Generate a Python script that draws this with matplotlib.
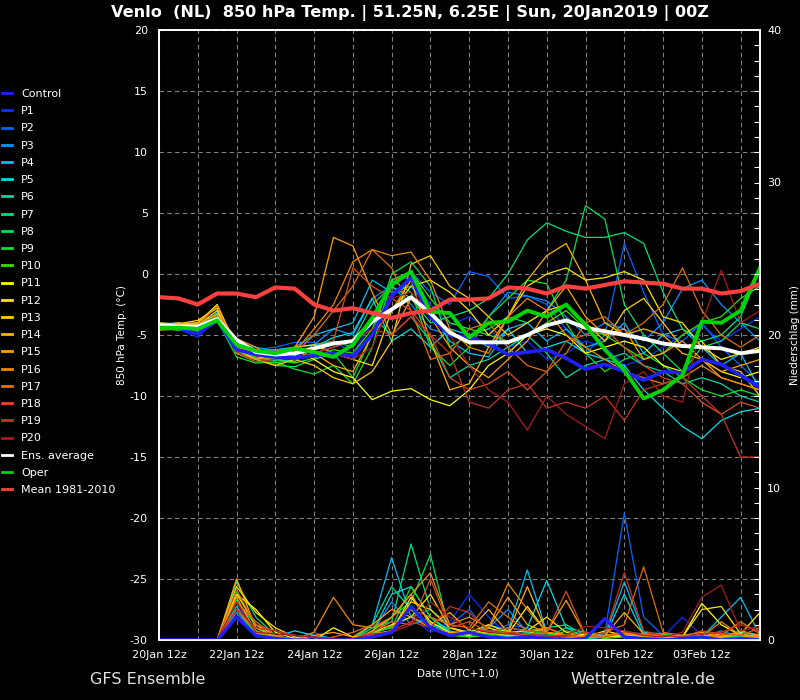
import numpy as np
import matplotlib
matplotlib.use("Agg")
import matplotlib.pyplot as plt
from matplotlib.lines import Line2D
from matplotlib.ticker import MultipleLocator

# time axis: days after 20Jan 12z (UTC+1), 12-hourly steps
days = np.arange(32) * 0.5
tick_days = [0, 2, 4, 6, 8, 10, 12, 14]
tick_labels = ["20Jan 12z", "22Jan 12z", "24Jan 12z", "26Jan 12z",
               "28Jan 12z", "30Jan 12z", "01Feb 12z", "03Feb 12z"]

# 850 hPa temperature (degC)
t_mean = [-1.9, -2.0, -2.5, -1.6, -1.6, -1.9, -1.1, -1.2, -2.5, -3.0, -2.8, -3.2, -3.6, -3.2, -3.0, -2.1,
          -2.1, -2.0, -1.1, -1.2, -1.6, -1.0, -1.2, -0.9, -0.6, -0.7, -0.8, -1.2, -1.2, -1.6, -1.4, -0.8]
t_avg = [-4.2, -4.3, -4.3, -3.7, -5.4, -6.4, -6.6, -6.5, -6.1, -5.7, -5.5, -3.9, -2.9, -1.9, -3.2, -4.8,
         -5.6, -5.6, -5.6, -5.0, -4.2, -3.8, -4.4, -4.7, -5.0, -5.3, -5.7, -5.9, -6.0, -6.1, -6.5, -6.3]
t_oper = [-4.4, -4.4, -4.5, -3.8, -5.8, -6.3, -6.5, -6.1, -6.4, -6.8, -5.8, -3.6, -0.9, 0.2, -3.1, -3.2,
          -5.2, -4.0, -3.9, -3.0, -3.5, -2.5, -4.2, -6.2, -7.9, -10.2, -9.5, -8.3, -3.9, -4.0, -3.0, 0.5]
t_control = [-4.3, -4.4, -4.9, -3.8, -6.2, -6.6, -6.8, -6.9, -6.7, -6.5, -6.7, -5.0, -1.8, -0.3, -3.5, -5.0,
             -5.2, -5.7, -6.6, -6.4, -6.2, -6.9, -7.8, -7.4, -8.0, -8.7, -8.0, -8.1, -7.0, -7.4, -8.3, -9.3]
t_p1 = [-4.2, -4.5, -5.2, -3.6, -6.2, -7.0, -7.3, -6.8, -6.0, -5.5, -6.5, -4.0, -0.5, -0.3, -2.5, -4.2,
        -3.5, -4.5, -6.0, -5.5, -7.0, -6.5, -5.5, -6.0, -7.5, -7.0, -6.0, -5.0, -4.2, -5.5, -4.5, -3.5]
t_p2 = [-4.0, -4.2, -4.8, -3.4, -6.0, -6.2, -6.0, -5.6, -5.6, -6.5, -7.0, -5.0, -1.0, 0.2, -1.5, -2.5,
        0.2, -0.2, -2.0, -1.8, -2.5, -4.5, -6.5, -5.0, 2.5, -1.5, -5.0, -5.5, -4.0, -6.0, -7.5, -9.0]
t_p3 = [-4.1, -4.0, -4.3, -3.0, -5.8, -6.0, -6.3, -6.0, -5.8, -4.5, -5.0, -2.0, -1.0, -2.5, -4.5, -5.0,
        -5.5, -3.5, -1.5, -1.8, -2.2, -3.5, -5.0, -4.0, -4.5, -5.5, -4.0, -1.2, -0.5, -2.5, -4.0, -5.5]
t_p4 = [-4.3, -4.6, -4.4, -3.2, -5.5, -6.3, -6.2, -6.0, -5.0, -4.5, -4.0, -0.5, -1.5, -1.0, -3.0, -5.5,
        -6.5, -6.8, -4.5, -4.0, -5.5, -4.5, -6.0, -5.5, -4.0, -6.5, -5.0, -4.5, -6.0, -7.5, -6.5, -9.5]
t_p5 = [-4.4, -4.3, -4.4, -3.2, -6.0, -6.5, -7.0, -7.2, -6.0, -5.2, -4.8, -2.0, -5.5, -4.5, -6.0, -4.5,
        -5.0, -6.0, -4.5, -6.5, -6.0, -5.5, -6.5, -7.0, -7.5, -9.5, -11.0, -12.5, -13.5, -12.0, -11.3, -11.0]
t_p6 = [-4.2, -4.4, -4.6, -3.8, -6.2, -6.9, -7.1, -6.7, -5.8, -5.5, -6.0, -3.5, -5.0, -3.5, -5.5, -8.5,
        -7.5, -7.0, -6.0, -5.0, -6.5, -8.5, -7.5, -7.0, -6.5, -7.5, -8.0, -9.0, -8.5, -9.0, -10.0, -10.5]
t_p7 = [-4.5, -4.4, -4.7, -3.3, -6.5, -7.2, -7.3, -7.0, -6.5, -6.0, -5.5, -2.5, -1.0, -2.0, -4.0, -3.5,
        -3.0, -2.0, 0.0, 2.8, 4.2, 3.5, 3.0, 3.0, 3.4, 2.5, -1.5, -4.5, -5.5, -5.0, -3.5, 0.3]
t_p8 = [-4.4, -4.5, -4.4, -3.5, -6.3, -7.0, -7.5, -7.6, -7.0, -6.5, -8.5, -5.0, 0.0, 1.0, -1.0, -6.0,
        -5.0, -4.5, -3.5, -4.0, -3.0, -0.5, 5.6, 4.5, -2.5, -5.0, -6.5, -8.0, -6.0, -5.5, -4.0, -4.5]
t_p9 = [-4.6, -4.5, -4.3, -3.8, -6.8, -7.3, -7.2, -7.8, -8.2, -7.5, -9.0, -6.0, -0.5, -1.5, -6.0, -7.5,
        -6.0, -3.5, -2.0, -0.5, -0.8, -4.0, -6.5, -8.0, -7.0, -6.5, -7.5, -8.5, -9.5, -10.0, -9.5, -10.0]
t_p10 = [-4.5, -4.6, -4.5, -3.5, -6.3, -6.8, -7.0, -7.3, -6.9, -6.2, -6.5, -4.5, -0.5, 0.2, -2.0, -4.0,
         -4.5, -5.0, -5.5, -5.0, -4.0, -3.0, -4.5, -5.0, -6.0, -7.0, -6.5, -5.0, -4.0, -3.5, -2.0, -1.0]
t_p11 = [-4.1, -4.2, -4.0, -2.5, -6.0, -6.5, -6.8, -6.2, -7.0, -8.0, -8.5, -10.3, -9.6, -9.4, -10.3, -10.8,
         -9.5, -7.5, -6.5, -5.0, -4.5, -5.0, -6.5, -6.0, -5.5, -6.0, -7.5, -8.0, -7.0, -8.0, -8.5, -8.0]
t_p12 = [-4.0, -4.1, -3.8, -2.8, -6.5, -7.0, -6.5, -6.0, -5.8, -6.5, -7.0, -7.5, -3.0, -1.0, -0.5, -1.5,
         -3.0, -5.0, -3.5, -1.0, 0.0, 0.5, -0.5, -0.3, 0.2, -0.5, -3.5, -4.0, -6.0, -7.0, -6.5, -6.0]
t_p13 = [-4.2, -4.0, -4.2, -3.0, -6.2, -7.0, -7.5, -7.0, -7.5, -8.5, -9.0, -8.0, -5.5, 0.8, 1.5, -1.0,
         -2.0, -3.5, -5.0, -4.0, -3.0, -2.5, -4.0, -5.5, -3.0, -2.0, -4.0, -6.0, -5.5, -7.5, -8.0, -10.0]
t_p14 = [-4.3, -4.1, -4.0, -2.6, -5.9, -6.4, -6.6, -6.9, -6.5, -7.5, -8.0, -5.0, -3.0, -0.5, -5.5, -9.5,
         -9.0, -6.0, -3.5, -0.5, 1.5, 2.5, -0.5, -4.0, -5.0, -4.5, -5.0, -6.5, -7.0, -8.5, -9.0, -9.5]
t_p15 = [-4.2, -4.3, -4.1, -3.3, -5.3, -6.0, -7.0, -6.0, -3.5, 3.0, 2.3, -1.5, -5.0, -2.0, -3.5, -6.0,
         -7.5, -8.5, -7.0, -5.5, -3.0, -1.0, -3.5, -5.0, -4.5, -7.0, -6.5, -5.5, -7.0, -8.0, -7.5, -7.0]
t_p16 = [-4.4, -4.3, -4.2, -2.6, -6.5, -7.0, -6.8, -6.4, -4.5, -2.5, 1.0, 2.0, 1.5, 1.8, -0.5, -4.5,
         -6.0, -6.5, -3.5, -2.0, -3.0, -5.0, -6.0, -7.0, -8.0, -8.5, -9.0, -8.5, -7.5, -8.5, -9.0, -9.5]
t_p17 = [-4.6, -4.5, -4.3, -3.5, -6.0, -6.3, -6.2, -6.5, -5.0, -3.0, -1.0, 2.0, 0.5, -3.0, -7.0, -6.5,
         -4.5, -4.0, -6.0, -7.5, -8.0, -6.5, -4.0, -3.5, -5.0, -4.0, -2.5, 0.5, -3.0, -5.0, -6.0, -5.0]
t_p18 = [-4.3, -4.2, -4.5, -3.8, -6.2, -6.7, -6.9, -6.4, -6.0, -5.5, 0.5, -1.0, -2.0, -3.0, -5.0, -8.5,
         -9.5, -9.0, -8.0, -9.5, -8.0, -5.5, -5.0, -4.5, -6.0, -7.5, -8.5, -9.0, -10.5, -11.5, -10.5, -11.0]
t_p19 = [-4.5, -4.4, -4.6, -3.7, -6.4, -7.2, -7.0, -6.8, -6.5, -6.0, -5.5, -4.5, -5.0, -3.5, -5.0, -6.5,
         -10.5, -11.0, -9.5, -9.0, -11.0, -10.5, -11.0, -10.0, -12.0, -9.5, -9.0, -8.5, -10.0, -11.5, -15.0, -15.0]
t_p20 = [-4.3, -4.4, -4.5, -3.6, -6.1, -6.5, -6.6, -6.2, -6.0, -6.5, -7.0, -6.0, -2.0, -1.5, -3.0, -5.0,
         -7.5, -9.5, -10.5, -12.8, -10.0, -11.5, -12.5, -13.5, -9.0, -8.0, -10.0, -10.5, -4.0, 0.3, -4.0, -3.0]

# precipitation (mm per step)
r_control = [0, 0, 0, 0, 1.5, 0.3, 0.1, 0, 0, 0, 0, 0.2, 0.5, 2.2, 0.8, 0.3,
             0.5, 0.2, 0.1, 0.2, 0.1, 0, 0.1, 1.4, 0.2, 0.1, 0, 0.1, 0.2, 0, 0.1, 0]
r_p1 = [0, 0, 0, 0, 2.0, 0.2, 0.1, 0, 0.2, 0, 0, 0.5, 0.8, 1.5, 0.5, 1.2,
        3.0, 1.5, 0.3, 0.5, 0.2, 0.1, 0, 0.2, 0.3, 0.1, 0.2, 1.5, 0.3, 0.2, 0.1, 0.2]
r_p2 = [0, 0, 0, 0, 2.5, 0.5, 0, 0.1, 0.5, 0, 0, 0.3, 1.0, 1.5, 2.0, 1.0,
        2.0, 0.5, 1.0, 0.8, 0.5, 0.1, 0, 0.5, 8.3, 1.5, 0.3, 0.2, 0.1, 0.2, 0.3, 0.2]
r_p3 = [0, 0, 0, 0, 1.8, 0.3, 0.2, 0, 0, 0.1, 0, 0.5, 2.5, 1.0, 1.5, 0.5,
        0.6, 0.8, 2.0, 0.5, 0.3, 0, 0.1, 0.2, 0.5, 0.4, 0.3, 0.1, 0.2, 0.6, 0.2, 0.4]
r_p4 = [0, 0, 0, 0, 2.2, 0.5, 0.1, 0, 0, 0, 0.1, 1.0, 5.4, 1.5, 1.0, 0.8,
        0.5, 1.0, 0.6, 4.6, 0.5, 0.2, 0.1, 0.3, 3.8, 0.5, 0.4, 0.3, 0.2, 1.5, 2.8, 0.3]
r_p5 = [0, 0, 0, 0, 1.5, 0.4, 0.2, 0.6, 0.3, 0.1, 0, 0.5, 3.0, 3.5, 1.5, 0.6,
        0.3, 0.5, 0.2, 0.8, 3.9, 0.8, 0.2, 0.2, 3.0, 0.3, 0.4, 0.2, 0.3, 0.2, 0.5, 0.3]
r_p6 = [0, 0, 0, 0, 2.6, 0.6, 0.2, 0.1, 0, 0, 0, 1.0, 3.5, 2.0, 1.0, 0.5,
        0.4, 0.3, 0.2, 0.4, 0.2, 0.8, 0.5, 0.3, 0.2, 0.3, 0.2, 0.2, 0.1, 0.3, 0.2, 0.1]
r_p7 = [0, 0, 0, 0, 3.8, 1.5, 0.3, 0, 0, 0, 0, 0.8, 1.2, 6.3, 2.0, 0.8,
        0.5, 0.4, 0.3, 0.5, 0.8, 1.0, 0.3, 0.2, 0.4, 0.2, 0.1, 0.3, 0.2, 0.1, 0.2, 0.3]
r_p8 = [0, 0, 0, 0, 3.2, 0.8, 0.2, 0, 0, 0, 0, 0.3, 1.5, 2.5, 5.6, 0.5,
        0.3, 0.6, 0.4, 0.3, 0.5, 0.3, 0.2, 0.3, 0.4, 0.3, 0.2, 0.1, 0.2, 0.3, 0.1, 0.2]
r_p9 = [0, 0, 0, 0, 2.5, 1.0, 0.1, 0, 0, 0, 0, 0.5, 0.8, 3.5, 1.5, 0.4,
        0.2, 0.3, 0.8, 0.6, 0.4, 0.2, 0.1, 0.2, 0.3, 0.2, 0.4, 0.2, 0.1, 0.2, 0.3, 0.1]
r_p10 = [0, 0, 0, 0, 2.0, 0.4, 0.1, 0, 0, 0, 0, 0.4, 0.9, 2.0, 0.8, 0.3,
         0.2, 0.4, 0.3, 0.2, 0.1, 0.6, 0.3, 0.1, 0.2, 0.3, 0.2, 0.1, 0.2, 0.1, 0.1, 0.2]
r_p11 = [0, 0, 0, 0, 3.0, 2.0, 0.5, 0.1, 0, 0.8, 0.2, 0.3, 0.6, 2.8, 1.2, 0.5,
         0.3, 0.8, 0.4, 2.2, 0.5, 0.3, 0.4, 0.2, 0.3, 0.2, 0.3, 0.2, 2.4, 1.0, 0.3, 0.2]
r_p12 = [0, 0, 0, 0, 3.5, 1.8, 0.8, 0.2, 0, 0, 0, 0.5, 1.0, 1.5, 3.0, 0.8,
         0.5, 1.0, 0.5, 0.6, 1.5, 0.5, 0.2, 0.6, 0.3, 0.4, 0.3, 0.2, 2.0, 2.2, 0.4, 1.8]
r_p13 = [0, 0, 0, 0, 3.0, 1.0, 0.3, 0, 0, 0.1, 0, 0.4, 0.6, 2.5, 2.0, 0.8,
         0.4, 0.5, 0.3, 0.4, 0.8, 0.3, 0.2, 0.3, 0.5, 0.3, 0.2, 0.1, 0.3, 0.2, 0.4, 0.2]
r_p14 = [0, 0, 0, 0, 4.0, 0.8, 0.2, 0, 0, 0, 0, 0.6, 1.5, 3.0, 1.0, 1.8,
         0.6, 2.0, 0.5, 3.5, 0.5, 0.3, 0.2, 0.3, 1.8, 0.4, 0.2, 0.3, 0.2, 0.4, 0.3, 0.2]
r_p15 = [0, 0, 0, 0, 2.8, 0.5, 0.1, 0, 0.3, 0.5, 0.2, 1.0, 2.0, 1.5, 0.8, 0.5,
         0.4, 0.8, 2.8, 1.0, 0.5, 2.6, 0.3, 0.2, 0.6, 0.3, 0.2, 0.3, 0.5, 0.2, 0.6, 0.3]
r_p16 = [0, 0, 0, 0, 2.0, 0.6, 0.2, 0, 0.5, 2.8, 1.0, 0.8, 1.5, 3.0, 4.4, 1.0,
         1.5, 0.8, 3.7, 2.0, 0.5, 0.3, 0.2, 0.3, 0.4, 0.3, 0.2, 0.3, 0.2, 1.2, 0.3, 0.2]
r_p17 = [0, 0, 0, 0, 2.5, 1.2, 0.3, 0, 0, 0.2, 0.5, 1.0, 0.8, 2.0, 1.5, 1.0,
         0.8, 2.5, 1.5, 0.6, 0.8, 0.3, 0.2, 0.5, 1.0, 4.8, 0.5, 0.3, 0.2, 0.3, 1.2, 0.4]
r_p18 = [0, 0, 0, 0, 3.3, 1.0, 0.6, 0.3, 0.2, 0, 0.1, 0.5, 1.2, 1.0, 4.0, 0.8,
         1.2, 0.5, 0.8, 0.6, 0.5, 3.2, 0.3, 0.2, 0.5, 0.4, 0.3, 0.2, 0.6, 0.4, 0.3, 0.8]
r_p19 = [0, 0, 0, 0, 2.0, 0.8, 0.6, 0.3, 0.2, 0.1, 0, 0.3, 0.6, 1.2, 0.8, 2.2,
         1.8, 0.6, 0.5, 0.4, 0.3, 0.2, 0.5, 0.4, 4.4, 0.6, 0.3, 0.2, 0.4, 0.5, 1.0, 0.6]
r_p20 = [0, 0, 0, 0, 2.5, 0.5, 0.4, 0.3, 0.2, 0.1, 0.1, 0.4, 0.5, 1.0, 2.5, 1.5,
         0.8, 0.5, 0.4, 0.3, 0.2, 0.3, 0.9, 0.8, 0.6, 0.3, 0.2, 0.5, 2.8, 3.6, 0.6, 0.9]

member_names = ["P%d" % i for i in range(1, 21)]
member_temps = [t_p1, t_p2, t_p3, t_p4, t_p5, t_p6, t_p7, t_p8, t_p9, t_p10,
                t_p11, t_p12, t_p13, t_p14, t_p15, t_p16, t_p17, t_p18, t_p19, t_p20]
member_rain = [r_p1, r_p2, r_p3, r_p4, r_p5, r_p6, r_p7, r_p8, r_p9, r_p10,
               r_p11, r_p12, r_p13, r_p14, r_p15, r_p16, r_p17, r_p18, r_p19, r_p20]
member_colors = ["#0033ff", "#0066ff", "#0096ff", "#00bff0", "#00dde6", "#00d8a0", "#00e07c",
                 "#00e058", "#10e030", "#38e000", "#ffff00", "#ffe400", "#ffcc00", "#ffb400",
                 "#ff9e00", "#f08800", "#e07000", "#d85020", "#c83420", "#a81c1c"]
control_color = "#2020ff"
avg_color = "#ffffff"
oper_color = "#00d400"
mean_color = "#ff4040"

bg = "#000000"
fg = "#ffffff"
grid_col = "#808080"

plt.rcParams["font.family"] = "DejaVu Sans"
plt.rcParams["text.color"] = fg
plt.rcParams["axes.unicode_minus"] = False

fig = plt.figure(figsize=(8, 7), dpi=100, facecolor=bg)
ax = fig.add_axes([159 / 800, 60 / 700, 601 / 800, 610 / 700], facecolor=bg)
ax2 = ax.twinx()

# temperature spaghetti
for vals, col in zip(member_temps, member_colors):
    ax.plot(days, vals, color=col, lw=0.9, zorder=3)
ax.plot(days, t_control, color=control_color, lw=2.6, zorder=4)
ax.plot(days, t_avg, color=avg_color, lw=2.8, zorder=5)
ax.plot(days, t_oper, color=oper_color, lw=2.8, zorder=6)
ax.plot(days, t_mean, color=mean_color, lw=3.0, zorder=7)

# precipitation on the right axis
for vals, col in zip(member_rain, member_colors):
    ax2.plot(days, vals, color=col, lw=0.9)
ax2.plot(days, r_control, color=control_color, lw=2.4)

ax.set_xlim(0, 15.5)
ax.set_ylim(-30, 20)
ax2.set_ylim(0, 40)

ax.set_xticks(tick_days)
ax.set_xticklabels(tick_labels)
ax.xaxis.set_minor_locator(MultipleLocator(1))
ax.set_yticks(np.arange(-30, 21, 5))
ax.grid(True, which="both", axis="x", color=grid_col, ls=(0, (4, 3)), lw=0.8)
ax.grid(True, which="major", axis="y", color=grid_col, ls=(0, (4, 3)), lw=0.8)
ax.set_axisbelow(True)
ax.tick_params(axis="both", which="both", length=0, colors=fg, labelsize=8)
ax.tick_params(axis="y", pad=8)
ax.tick_params(axis="x", pad=7)

ax2.set_yticks([0, 10, 20, 30, 40])
ax2.yaxis.set_minor_locator(MultipleLocator(1))
ax2.tick_params(axis="y", which="both", direction="in", length=4, width=0.8,
                colors=fg, labelsize=8, pad=5)

for a in (ax, ax2):
    for s in a.spines.values():
        s.set_color(fg)
        s.set_linewidth(1.2)

ax.set_ylabel("850 hPa Temp. (°C)", color=fg, fontsize=7.5)
ax.yaxis.set_label_coords(-0.053, 0.5)
ax2.set_ylabel("Niederschlag (mm)", color=fg, fontsize=7.5)
ax2.yaxis.set_label_coords(1.05, 0.5)

# legend on the left
handles = [Line2D([], [], color=control_color, lw=2)]
handles += [Line2D([], [], color=c, lw=2) for c in member_colors]
handles += [Line2D([], [], color=avg_color, lw=2),
            Line2D([], [], color=oper_color, lw=2),
            Line2D([], [], color=mean_color, lw=2)]
labels = ["Control"] + member_names + ["Ens. average", "Oper", "Mean 1981-2010"]
fig.legend(handles, labels, loc="upper left", bbox_to_anchor=(2 / 800, 1 - 89 / 700),
           frameon=False, fontsize=8, handlelength=0.9, handletextpad=0.8,
           labelspacing=0.65, borderpad=0, borderaxespad=0, labelcolor=fg)

fig.text(410 / 800, 1 - 13 / 700,
         "Venlo  (NL)  850 hPa Temp. | 51.25N, 6.25E | Sun, 20Jan2019 | 00Z",
         ha="center", va="center", fontsize=11.6, fontweight="bold", color=fg)
fig.text(458 / 800, 1 - 673 / 700, "Date (UTC+1.0)", ha="center", va="center",
         fontsize=7.5, color=fg)
fig.text(90 / 800, 1 - 680 / 700, "GFS Ensemble", ha="left", va="center",
         fontsize=11.5, color="#e0e0e0")
fig.text(570 / 800, 1 - 680 / 700, "Wetterzentrale.de", ha="left", va="center",
         fontsize=11.5, color="#e0e0e0")

fig.savefig("out.png", dpi=100, facecolor=bg)
